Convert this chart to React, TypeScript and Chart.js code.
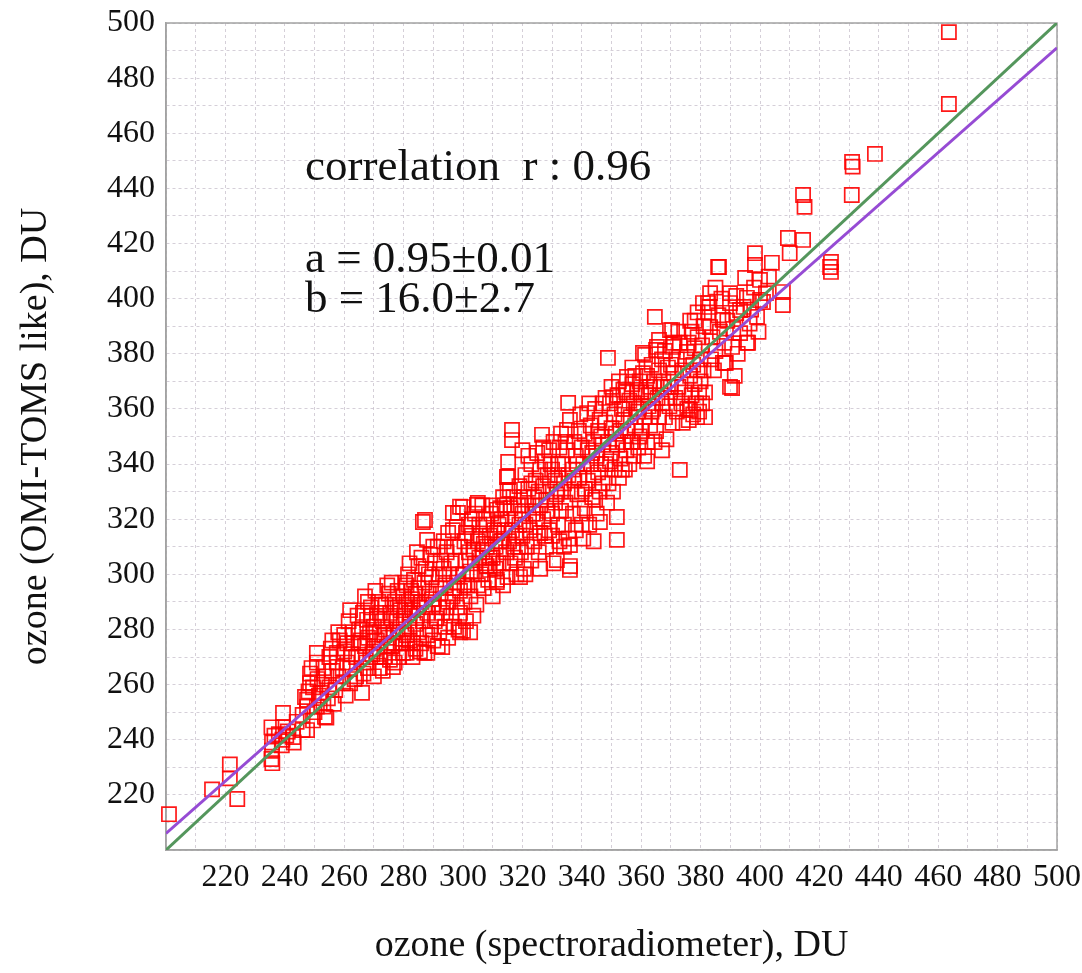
import React, { useEffect, useRef } from "react";
import { Chart, registerables } from "chart.js";

Chart.register(...registerables);

// ---------- data ----------
const axisMin = 200;
const axisMax = 500;
const gridValues = [200, 210, 220, 230, 240, 250, 260, 270, 280, 290, 300, 310, 320, 330, 340, 350, 360, 370, 380, 390, 400, 410, 420, 430, 440, 450, 460, 470, 480, 490, 500];
const labelledTicks = [220, 240, 260, 280, 300, 320, 340, 360, 380, 400, 420, 440, 460, 480, 500];

const identityLine = [{ x: 200, y: 200 }, { x: 500, y: 500 }];
const fitLine = [{ x: 200, y: 206 }, { x: 500, y: 491 }];

const annotationLines = ["correlation  r : 0.96", "a = 0.95\u00b10.01", "b = 16.0\u00b12.7"];
const annotationAnchors = [{ x: 246.8, y: 443 }, { x: 246.8, y: 409.7 }, { x: 246.8, y: 395.2 }];

// [spectroradiometer DU, OMI-TOMS like DU]
const observations: [number, number][] = [
  [201, 213], [215.5, 222], [221.5, 231], [221.5, 226], [224, 218.5],
  [235.5, 244.5], [235.7, 239], [235.7, 236], [235.5, 233], [235.8, 231.5], [236.5, 241.5], [238, 242], [239.4, 249.7], [239.4, 244.6], [239.2, 240], [239, 238], [240.5, 241.5], [241, 243], [242.8, 241], [243, 239], [244, 246.5],
  [246, 243.5], [246.8, 255.5], [247.5, 254.5], [247.5, 252], [247.5, 243.5], [248.5, 264], [248.5, 260.5], [249.5, 259], [249.5, 247], [250.8, 271.5], [250.8, 268], [250.8, 252], [251, 262], [251.5, 256], [250, 250], [248, 257.5], [246, 249], [249, 266],
  [253.5, 248.3], [254, 263], [254, 248], [253, 252], [252, 257], [255, 259], [256, 276], [257.5, 271.5], [257.5, 268], [258.5, 276], [256, 265], [258, 263], [257, 258], [255, 270], [253, 266], [252.5, 260], [256.5, 253], [258, 279], [255.5, 273], [254.5, 255],
  [259.6, 260.5], [262, 260.5], [263, 275], [265, 275], [261, 268], [260, 272], [262, 266], [264, 270], [263, 279], [264, 263], [260, 278], [261.5, 283], [259.5, 266], [262.5, 271], [264.5, 285], [260.5, 256], [263.5, 262], [265, 280], [261, 275], [262, 287],
  [266, 257], [266.3, 286], [267.7, 283.5], [268.7, 279], [271, 276], [272, 286], [266, 270], [267, 274], [268, 266], [269, 288], [270, 281], [271, 270], [272, 279], [266, 280], [267, 292], [270, 263], [269, 285], [268, 277], [271, 284], [270, 273], [266.5, 264], [267.5, 268], [269.5, 271], [271.5, 290], [272, 266], [268, 290], [265.5, 276], [270.5, 294],
  [272, 272], [273, 283], [273, 265], [274, 289], [274.4, 273.7], [275, 277], [275.4, 269], [276.4, 266.4], [276, 284], [277, 290], [278, 280], [279, 287], [273.5, 278], [274, 280], [275, 293], [276, 274], [277, 275], [278, 294], [278.5, 270], [279, 283], [272.5, 289], [273.5, 270], [275.5, 286], [276.5, 279], [277.5, 283], [278, 288], [279, 275], [274.5, 296], [277, 268], [276, 297],
  [279.8, 271.5], [279.8, 275], [280, 284], [280, 292], [281, 278], [281, 271.5], [281, 296], [282, 286], [282, 281], [283, 291], [283, 275], [283, 270], [284, 282], [284, 293], [285, 288], [285, 279], [280.5, 288], [281.5, 300], [282.5, 294], [283.5, 298], [284.5, 285], [285, 303], [280, 279], [282, 276], [284, 273], [285.5, 272], [281, 290], [283, 287], [284.5, 308], [282, 304], [280.5, 297], [285, 295],
  [286.5, 319], [287.2, 319.7], [287.9, 312.5], [286, 275], [287, 271.5], [288, 271.5], [286, 290], [286.5, 283], [287, 297], [287.5, 302], [288, 286], [288.5, 293], [289, 280], [289, 307], [289.5, 299], [290, 289], [290, 276], [290.5, 304], [291, 284], [291, 295], [291.5, 310], [292, 279], [292, 300], [286, 306], [288, 278], [289.5, 291], [290.5, 283], [291.5, 274], [287, 289], [288.5, 300], [292, 288], [290, 310],
  [293, 273.6], [292.5, 293], [293, 286], [293.5, 302], [294, 296], [294, 281], [294.5, 308], [295, 290], [295, 277], [295.5, 300], [296, 285], [296.6, 316], [296.6, 322.3], [297, 295], [297.5, 305], [297.9, 317.2], [298, 288], [298.3, 322.3], [298.5, 280], [298.5, 300], [299, 279], [299, 310], [299, 294], [293.5, 312], [295, 315], [296, 304], [297, 281], [298, 297], [294.5, 288], [296.5, 292], [292.5, 305], [299, 286], [297, 310],
  [300, 324.4], [299, 324.5], [300, 300], [300.5, 290], [300.5, 312], [301, 305], [301, 283], [301.5, 296], [302, 318], [302.4, 279], [302, 308], [302.5, 292], [303, 300], [303, 314], [303.5, 285], [304, 304], [304, 322], [304.7, 325.2], [305, 296], [305, 312], [305.5, 318], [305, 325.9], [300, 279.5], [301, 315], [302.5, 301], [303.5, 309], [304.5, 289], [305.5, 306], [300.5, 296], [303, 320],
  [306, 300], [306, 314], [306.5, 308], [307, 320], [307, 295], [307.5, 304], [308, 318], [308, 310], [308.5, 298], [309, 301.6], [309, 314], [309.5, 322], [310, 306], [310, 292], [310.5, 316], [311, 310], [311.4, 298], [311.4, 297.2], [311.4, 323.4], [312, 304], [312, 318], [312.5, 312], [306.5, 325], [308, 303], [310, 325], [311, 302], [312.5, 324], [307, 311], [309, 306], [311.5, 315],
  [313.5, 328], [314.8, 335.3], [315, 330.6], [315.2, 340.8], [315.2, 335.3], [315.8, 330.6], [316.5, 352.4], [316.5, 348.7], [313, 312], [313, 320], [313.5, 304], [314, 316], [314, 325], [314.5, 308], [315, 299], [315, 320], [315.5, 312], [316, 324], [316, 304], [316.5, 316], [317, 328], [317, 310], [317.5, 320], [318, 300], [318, 314], [318.5, 325], [319.2, 299], [319, 332], [319, 318], [313.5, 296], [317.5, 306], [318.5, 310],
  [319.5, 308], [320, 322], [320, 314], [320.5, 328], [320.5, 302], [321, 318], [321, 336], [321.5, 310], [322, 325], [322, 331], [322.5, 316], [323, 340], [323, 305], [323.5, 322], [324, 328], [324, 312], [324.5, 334], [325, 319], [325, 344], [325.5, 308], [326, 325], [326, 338], [326, 315], [320, 345], [322, 343], [321, 300], [323, 333], [324.5, 322], [325.5, 330], [319.5, 325], [326, 302],
  [326.6, 350.6], [327, 320], [327, 332], [327.5, 341], [328, 310], [328, 327], [328.5, 336], [329, 345], [329, 316], [329.5, 330], [330, 322], [330, 338], [330.5, 348], [330.5, 304], [331, 326], [331, 334], [331.6, 305.2], [332, 318], [332, 340], [332.5, 312], [332.5, 346], [333, 330], [333, 323], [327.5, 314], [328.5, 323], [329.5, 340], [331.5, 329], [332, 336], [327, 346], [330, 314], [333, 351],
  [333.5, 340], [334, 318], [334, 333], [334.5, 326], [335, 352.4], [335.4, 362.2], [335, 345], [335.5, 313], [336, 310.6], [336, 301.6], [336, 303], [336.5, 330], [337, 338], [337, 322], [337.5, 348], [338, 316], [338, 343], [338.5, 329], [339, 335], [339, 352], [339.5, 322], [340, 346], [340, 330], [334.5, 348], [336, 356], [337.5, 334], [338.5, 340], [339.5, 358], [334, 310], [340, 318], [335.5, 336],
  [340.5, 340], [341, 324], [341, 351], [341.8, 358.5], [342, 334], [342, 345], [342.5, 318], [343, 340], [343, 354], [343.5, 328], [344, 348], [344, 336], [344.5, 360], [345, 322], [345, 343], [345.5, 352], [346, 330], [346.1, 319], [346, 356], [346.5, 340], [347, 347], [347, 362], [341, 331], [342.5, 362], [343.5, 344], [344.5, 327], [345.5, 337], [346.5, 350], [347, 333], [340.5, 313], [344, 312],
  [348, 355], [348, 340], [348.8, 378.5], [349, 348], [349, 333], [349.5, 362], [350, 344], [350, 353], [350.5, 364.3], [351, 338], [351, 358], [351.8, 320.8], [351.8, 312.5], [352, 347], [352, 365], [352.5, 335], [353, 352], [353, 342], [353.5, 360], [354, 348], [354, 367], [348.5, 326], [350.5, 330], [352.5, 370], [349.5, 341], [351.5, 351], [353.5, 338], [350, 368], [348, 364], [354, 356],
  [354.5, 360], [355, 345], [355.2, 371.6], [355.5, 352], [356, 363], [356, 340], [356.5, 357], [357, 369], [357, 348], [357.5, 362], [358, 354], [358, 372], [358.6, 366], [359, 346], [359, 359], [359.5, 370], [360, 352], [360, 362], [360.6, 373], [355, 366], [356.5, 348], [357.5, 343], [358.5, 360], [359.5, 350], [360, 366], [354.5, 338], [357, 375],
  [360.6, 380.3], [361.3, 379.6], [361, 357], [361.5, 366], [362, 348], [362, 372], [362.5, 361], [363, 368], [363, 354], [363.5, 376], [364, 360], [364.6, 393.4], [364.5, 370], [365, 381.4], [365.3, 382.5], [365, 352], [365.5, 364], [366, 374], [366, 357], [366.5, 368], [367, 362], [367, 378], [361, 343], [362.5, 365], [363.5, 359], [364.5, 348], [366, 385], [367, 345], [362, 341],
  [367.5, 370], [368, 357], [368, 381], [368.5, 364], [369, 375], [369.7, 388.6], [369.5, 361], [370, 368], [370.4, 388.6], [370.7, 382.5], [370.5, 355], [371, 373], [371.5, 364], [372, 378], [372, 359], [372.5, 368], [373, 337.9], [373, 384], [373.5, 362], [374, 374], [374, 355], [368.5, 349], [371, 384], [372.5, 388], [370, 376], [369, 368],
  [374.5, 366], [375, 378], [375.4, 380.7], [375.5, 360], [376, 356], [376, 384], [376.4, 359.6], [376.5, 372], [377, 365], [377, 388], [377.5, 376], [377.5, 358], [378, 369], [378, 382], [378.5, 362], [378.8, 357], [379, 374], [379, 386], [379.5, 366], [379.5, 359], [380, 378], [380, 370], [380.5, 383], [380.5, 362], [380.8, 398.4], [381, 374], [381, 390], [381.5, 366], [381.5, 357], [383, 397], [378, 392], [376.5, 392], [379, 395],
  [382.5, 398.4], [382.5, 395], [383.2, 402], [383.2, 389.7], [385.9, 411.5], [386.2, 411.5], [387.5, 392.3], [387.5, 376.7], [388.2, 376.7], [388.5, 376.7], [389.9, 402], [389.9, 398.4], [389.9, 368], [390.6, 367.6], [390.6, 382.5], [392, 394.8], [393.3, 387.5], [393.3, 395.9], [384, 386], [385, 381], [386, 394], [384.5, 374], [386.5, 388], [388, 384], [389, 392], [391, 389], [392.5, 380], [387, 400], [385, 404], [392, 401], [383.5, 378], [391.5, 372],
  [395, 407.5], [395.6, 400.3], [395.6, 384], [396, 384], [398.3, 416.5], [398.3, 412.2], [399, 393.4], [400, 406.8], [400, 399.5], [401, 398.8], [404, 413], [397, 396], [398, 404], [402, 402], [403, 408], [396.5, 391], [399.5, 388], [394.5, 397],
  [407.7, 402.4], [407.7, 397.7], [409.4, 422], [410, 416.5], [414.5, 421.3], [414.5, 437.6], [415, 433.3], [423.6, 411.5], [423.9, 413.3], [423.9, 409.7],
  [430.9, 437.6], [431, 449.6], [431.2, 447.9], [438.7, 452.5], [463.6, 470.6], [463.6, 496.7],
];

const FONT = '"Liberation Serif", "Times New Roman", serif';

const framePlugin = {
  id: "frameAndNotes",
  beforeDatasetsDraw(chart: any) {
    const { ctx, chartArea } = chart;
    const { left, top, right, bottom } = chartArea;
    ctx.save();
    ctx.strokeStyle = "#a3a3a3";
    ctx.lineWidth = 1.5;
    ctx.strokeRect(left, top, right - left, bottom - top);
    ctx.restore();
  },
  afterDatasetsDraw(chart: any) {
    const { ctx, scales } = chart;
    ctx.save();
    ctx.fillStyle = "#111";
    ctx.font = `45px ${FONT}`;
    ctx.textAlign = "left";
    ctx.textBaseline = "alphabetic";
    annotationLines.forEach((t, i) => {
      const a = annotationAnchors[i];
      ctx.fillText(t, scales.x.getPixelForValue(a.x), scales.y.getPixelForValue(a.y));
    });
    ctx.restore();
  },
};

function axisOptions(title: string, isX: boolean) {
  return {
    type: "linear",
    min: axisMin,
    max: axisMax,
    afterBuildTicks: (scale: any) => {
      scale.ticks = gridValues.map((v) => ({ value: v }));
    },
    afterFit: (scale: any) => {
      if (isX) {
        scale.height = 123;
        scale.paddingLeft = 0;
        scale.paddingRight = 0;
      } else {
        scale.width = 166;
        scale.paddingTop = 0;
        scale.paddingBottom = 0;
      }
    },
    ticks: {
      autoSkip: false,
      maxRotation: 0,
      minRotation: 0,
      padding: isX ? 8 : 11,
      color: "#111",
      font: { family: FONT, size: 32 },
      callback: (v: any) => (labelledTicks.includes(Number(v)) ? String(v) : ""),
    },
    grid: {
      color: "rgba(185,175,190,0.6)",
      lineWidth: 1,
      drawTicks: false,
    },
    border: { display: true, color: "#a3a3a3", width: 1.5, dash: [3, 3] },
    title: {
      display: true,
      text: title,
      color: "#111",
      font: { family: FONT, size: 38 },
      padding: isX ? { top: 0, bottom: 4 } : { top: 13, bottom: 0 },
    },
  };
}

export default function App() {
  const canvasRef = useRef<HTMLCanvasElement | null>(null);

  useEffect(() => {
    if (!canvasRef.current) return;
    const chart = new Chart(canvasRef.current, {
      type: "scatter",
      data: {
        datasets: [
          {
            label: "fit",
            data: fitLine,
            showLine: true,
            borderColor: "rgb(150,75,212)",
            borderWidth: 3,
            pointRadius: 0,
            fill: false,
          } as any,
          {
            label: "1:1",
            data: identityLine,
            showLine: true,
            borderColor: "rgb(84,150,92)",
            borderWidth: 3,
            pointRadius: 0,
            fill: false,
          } as any,
          {
            label: "ozone",
            data: observations.map(([x, y]) => ({ x, y })),
            showLine: false,
            pointStyle: "rect",
            pointRadius: 10,
            pointBorderWidth: 1.7,
            pointBorderColor: "rgba(255,0,0,0.9)",
            pointBackgroundColor: "rgba(0,0,0,0)",
            borderColor: "rgba(255,0,0,0.9)",
            backgroundColor: "rgba(0,0,0,0)",
            clip: false,
          } as any,
        ],
      },
      options: {
        responsive: false,
        animation: false,
        layout: { padding: { top: 23, right: 25, left: 0, bottom: 0 } },
        plugins: {
          legend: { display: false },
          tooltip: { enabled: false },
        },
        scales: {
          x: axisOptions("ozone (spectroradiometer), DU", true) as any,
          y: axisOptions("ozone (OMI-TOMS like), DU", false) as any,
        },
      },
      plugins: [framePlugin],
    });
    return () => chart.destroy();
  }, []);

  return (
    <div style={{ position: "absolute", left: 0, top: 0, width: 1082, height: 973, background: "#fff" }}>
      <canvas ref={canvasRef} width={1082} height={973} style={{ display: "block" }} />
    </div>
  );
}
